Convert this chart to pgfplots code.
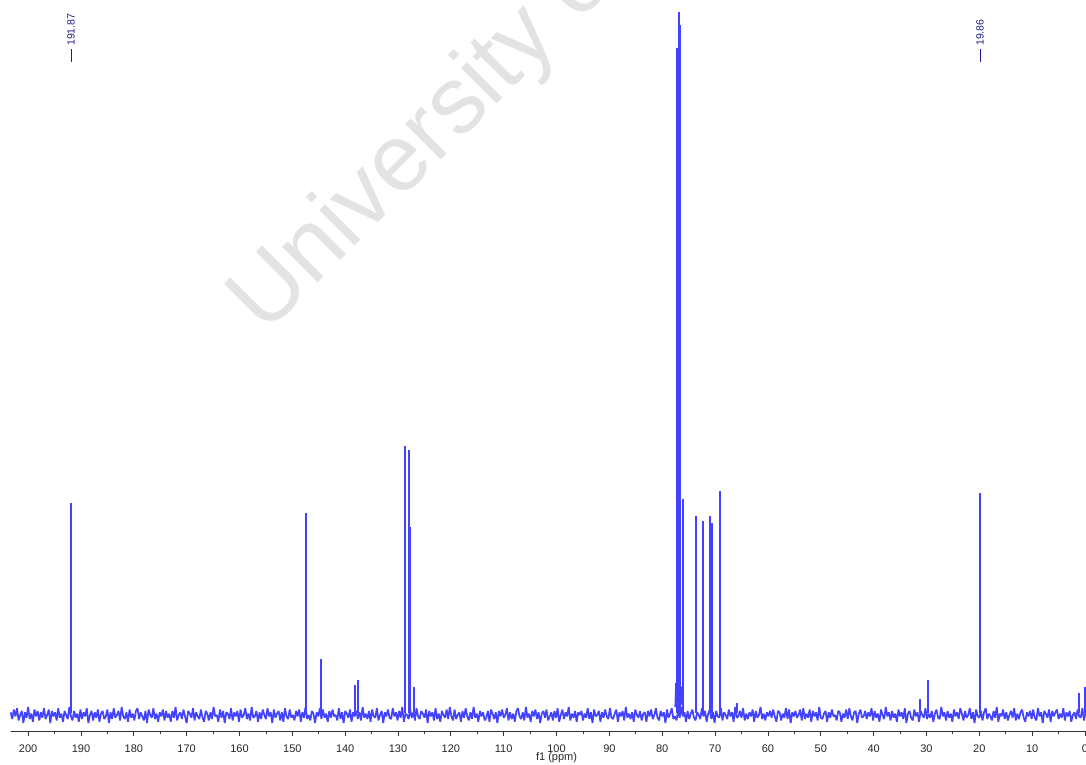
\documentclass[border=0pt]{standalone}
\usepackage{fontspec}
\setmainfont{Liberation Sans}
\usepackage{pgfplots}
\usepackage{pgfplotstable}
\pgfplotsset{compat=1.18}
\definecolor{spec}{RGB}{66,66,255}
\definecolor{ann}{RGB}{30,30,140}
\definecolor{wm}{RGB}{227,227,227}
\pgfplotstableread[row sep=\\]{
n\\
2\\-3\\4\\-1\\5\\-4\\0\\3\\-6\\2\\-2\\6\\-3\\1\\-5\\4\\-1\\3\\-4\\2\\
-2\\5\\-3\\0\\4\\-6\\3\\-1\\2\\-4\\5\\-2\\1\\-5\\3\\0\\-3\\6\\-1\\-4\\
3\\-2\\1\\-5\\4\\-3\\2\\-1\\5\\-6\\0\\3\\-4\\2\\-2\\4\\-5\\1\\3\\-3\\
-1\\4\\-6\\2\\-3\\5\\-2\\0\\3\\-4\\6\\-1\\-3\\2\\-5\\4\\-2\\1\\-4\\3\\
5\\-3\\2\\-1\\-4\\3\\-6\\4\\0\\-2\\5\\-3\\1\\-5\\2\\-1\\4\\-4\\3\\-2\\
1\\-5\\3\\-2\\6\\-4\\0\\2\\-3\\4\\-1\\-6\\3\\1\\-2\\5\\-4\\2\\-1\\-3\\
4\\-2\\-5\\3\\1\\-4\\2\\-3\\6\\-1\\0\\-5\\4\\-2\\3\\-6\\2\\1\\-3\\5\\
-4\\2\\-1\\3\\-5\\4\\-2\\0\\5\\-3\\1\\-4\\6\\-2\\-1\\3\\-5\\2\\-3\\4\\
0\\-3\\5\\-1\\2\\-6\\4\\-2\\1\\3\\-4\\2\\-5\\5\\-1\\-3\\4\\-2\\0\\-4\\
3\\-1\\4\\-5\\2\\-2\\6\\-3\\0\\-4\\3\\1\\-6\\2\\-1\\5\\-3\\4\\-2\\1\\
-5\\3\\-2\\4\\-1\\0\\-4\\5\\-3\\2\\-6\\3\\1\\-2\\4\\-5\\2\\-1\\3\\-3\\
2\\-4\\6\\-2\\1\\-3\\3\\-5\\4\\-1\\-2\\5\\-4\\0\\3\\-6\\2\\-1\\4\\-2\\
-3\\5\\-1\\2\\-4\\3\\-2\\6\\-5\\1\\0\\-3\\4\\-2\\2\\-4\\5\\-1\\-3\\3\\
1\\-2\\4\\-6\\3\\-1\\2\\-4\\5\\-3\\1\\-5\\3\\0\\-2\\4\\-3\\6\\-1\\-4\\
4\\-3\\0\\2\\-5\\3\\-2\\5\\-1\\-4\\2\\-3\\6\\-2\\1\\-5\\3\\-1\\2\\-4\\
-2\\3\\-5\\4\\1\\-3\\2\\-6\\3\\-1\\4\\-2\\0\\5\\-4\\2\\-3\\1\\-5\\3\\
5\\-1\\-3\\2\\-4\\6\\-2\\1\\-5\\3\\-1\\4\\-3\\2\\-6\\1\\3\\-2\\4\\-4\\
-1\\2\\-4\\3\\-2\\5\\-5\\0\\4\\-3\\2\\-1\\6\\-4\\1\\-2\\3\\-5\\2\\0\\
3\\-4\\1\\-2\\5\\-3\\2\\-6\\4\\-1\\0\\3\\-5\\2\\-2\\4\\-1\\-3\\5\\-2\\
-3\\1\\4\\-5\\2\\-1\\3\\-4\\6\\-2\\1\\-3\\2\\-5\\4\\0\\-2\\3\\-4\\1\\
2\\-5\\3\\-1\\4\\-3\\0\\5\\-2\\-4\\3\\-1\\2\\-6\\4\\-2\\1\\5\\-3\\-1\\
-4\\3\\-2\\6\\-1\\2\\-5\\3\\-3\\1\\4\\-2\\-4\\2\\0\\-3\\5\\-1\\3\\-5\\
1\\4\\-3\\2\\-6\\3\\-1\\-2\\5\\-4\\2\\0\\-3\\4\\-1\\2\\-5\\6\\-2\\-1\\
3\\-2\\5\\-4\\1\\-3\\2\\-1\\4\\-5\\3\\-2\\0\\6\\-3\\1\\-4\\2\\-1\\3\\
-2\\4\\-1\\-5\\3\\2\\-4\\1\\-2\\5\\-3\\4\\-6\\2\\-1\\3\\-2\\0\\4\\-4\\
5\\-3\\1\\-2\\4\\-5\\3\\-1\\2\\-4\\6\\-2\\-3\\1\\3\\-5\\2\\-2\\4\\-1\\
0\\-4\\3\\2\\-5\\1\\-2\\4\\-3\\5\\-1\\-4\\2\\3\\-6\\1\\4\\-2\\-1\\3\\
-3\\2\\-1\\5\\-4\\3\\-2\\1\\-5\\4\\0\\-3\\6\\-1\\2\\-4\\3\\-2\\1\\-5\\
4\\-1\\2\\-3\\5\\-6\\1\\3\\-2\\-4\\4\\-1\\2\\-5\\3\\0\\-2\\5\\-3\\1\\
-2\\3\\-5\\1\\4\\-2\\-3\\6\\-1\\2\\-4\\3\\-2\\1\\-5\\4\\-1\\2\\-3\\5\\
1\\-4\\3\\-2\\0\\5\\-3\\2\\-6\\4\\-1\\-2\\3\\-4\\2\\5\\-3\\1\\-1\\-4\\
3\\-2\\6\\-5\\1\\-1\\4\\-3\\2\\-4\\0\\3\\-2\\5\\-4\\1\\-3\\2\\4\\-2\\
-5\\2\\-1\\3\\-3\\4\\-2\\-4\\5\\-1\\2\\-6\\3\\1\\-2\\4\\-5\\3\\-1\\2\\
4\\-3\\1\\-2\\5\\-4\\2\\-1\\3\\-5\\0\\2\\-3\\4\\-1\\-2\\5\\-4\\2\\-3\\
}\noisetable
\begin{document}
\begin{tikzpicture}
\path[use as bounding box] (0,0) rectangle (1086pt,765pt);
\node[rotate=45, anchor=base west, inner sep=0, text=wm,
      font=\fontsize{95}{110}\selectfont] at (265pt,429pt) {University of};
\begin{axis}[
  at={(10.7pt,34pt)}, anchor=south west,
  scale only axis, width=1074.3pt, height=731pt,
  x dir=reverse, xmin=0, xmax=203.3, ymin=-18, ymax=713,
  axis y line=none, axis x line*=bottom,
  x axis line style={black!80, line width=0.8pt},
  xtick={0,10,...,200}, minor x tick num=1,
  tick align=outside, major tick length=5pt, minor tick length=3.3pt,
  tick style={black!80, line width=0.8pt},
  xticklabel style={anchor=base, inner sep=0, yshift=-16pt,
    font=\fontsize{11}{13}\selectfont, text=black!85},
  /pgf/number format/assume math mode=true,
  clip=false,
]
\addplot[spec, line width=1.7pt, line join=bevel, restrict x to domain=-0.2:204,
  y filter/.expression={1.35*y-2}]
  table[x expr={203.3-0.3*\coordindex}, y=n] {\noisetable};
\addplot[spec, ycomb, line width=2pt, mark=none] coordinates {
 (191.87,210) (147.5,200) (144.5,54) (138.2,28) (137.5,33)
 (128.6,267) (128.0,263) (127.7,186) (127.0,26)
 (77.23,665) (76.89,701) (76.55,688) (76.02,214)
 (73.67,197) (72.29,192) (71.03,197) (70.65,190) (69.08,222)
 (65.9,10) (31.3,14) (29.77,33) (19.86,220) (1.08,20) (0.05,26)
};
\addplot[spec, line width=1.5pt, mark=none] coordinates {
 (77.55,6) (77.4,30) (77.3,20) (76.4,25) (76.25,8)
};
\draw[ann, line width=0.8pt] (axis cs:191.87,651) -- (axis cs:191.87,664);
\node[ann, rotate=90, anchor=west, inner sep=0, font=\fontsize{10.5}{12}\selectfont]
  at (axis cs:191.87,667) {191.87};
\draw[ann, line width=0.8pt] (axis cs:19.86,651) -- (axis cs:19.86,664);
\node[ann, rotate=90, anchor=west, inner sep=0, font=\fontsize{10.5}{12}\selectfont]
  at (axis cs:19.86,667) {19.86};
\node[anchor=base, inner sep=0, font=\fontsize{11}{13}\selectfont, text=black!85]
  at (axis cs:100,-18) [yshift=-29pt] {f1 (ppm)};
\end{axis}
\end{tikzpicture}
\end{document}
